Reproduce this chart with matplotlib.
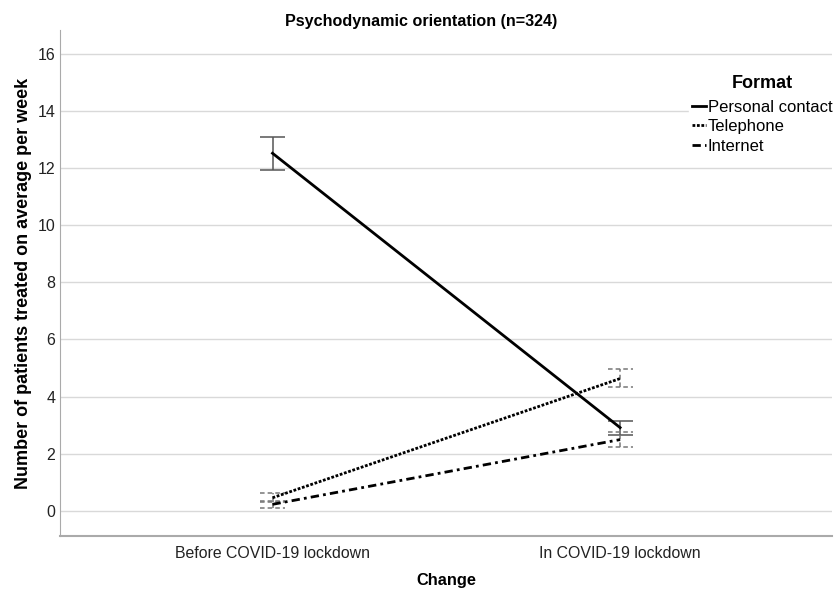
import numpy as np
import matplotlib
matplotlib.use('Agg')
import matplotlib.pyplot as plt

plt.rcParams['font.family'] = ['Liberation Sans', 'DejaVu Sans']

# data
periods = ['Before COVID-19 lockdown', 'In COVID-19 lockdown']
formats = ['Personal contact', 'Telephone', 'Internet']
means = {
    'Personal contact': [12.53, 2.91],
    'Telephone': [0.45, 4.63],
    'Internet': [0.22, 2.49],
}
ci_low = {
    'Personal contact': [11.93, 2.65],
    'Telephone': [0.29, 4.33],
    'Internet': [0.10, 2.23],
}
ci_high = {
    'Personal contact': [13.11, 3.13],
    'Telephone': [0.62, 4.96],
    'Internet': [0.33, 2.76],
}

line_styles = {
    'Personal contact': '-',
    'Telephone': (0, (1, 0.6)),
    'Internet': (0, (3, 1.5, 1, 1.5)),
}
bar_styles = {
    'Personal contact': '-',
    'Telephone': (0, (3, 2)),
    'Internet': (0, (3, 2)),
}
bar_colors = {
    'Personal contact': '#555555',
    'Telephone': '#777777',
    'Internet': '#777777',
}

fig, ax = plt.subplots(figsize=(8.35, 5.89), dpi=100)
fig.subplots_adjust(left=0.072, right=0.997, top=0.949, bottom=0.09)

x = np.arange(len(periods))
cap = 0.036

for name in formats:
    ax.plot(x, means[name], color='black', linestyle=line_styles[name],
            linewidth=2, label=name, zorder=3)
    ax.vlines(x, ci_low[name], ci_high[name], color=bar_colors[name],
              linestyle=bar_styles[name], linewidth=1.1, zorder=2)
    ax.hlines(ci_low[name], x - cap, x + cap, color=bar_colors[name],
              linestyle=bar_styles[name], linewidth=1.1, zorder=2)
    ax.hlines(ci_high[name], x - cap, x + cap, color=bar_colors[name],
              linestyle=bar_styles[name], linewidth=1.1, zorder=2)

ax.set_xlim(-0.611, 1.611)
ax.set_ylim(-0.89, 16.85)
ax.set_yticks(np.arange(0, 17, 2))
ax.set_xticks(x)
ax.set_xticklabels(periods, fontsize=11.4, color='#222222')
ax.tick_params(axis='y', labelsize=11.5, colors='#222222')
ax.tick_params(axis='x', pad=7)
ax.tick_params(length=0)
ax.grid(axis='y', color='#d9d9d9', linewidth=1)
ax.set_axisbelow(True)
for side in ['top', 'right']:
    ax.spines[side].set_visible(False)
ax.spines['left'].set_color('#aaaaaa')
ax.spines['bottom'].set_color('#aaaaaa')
ax.spines['bottom'].set_linewidth(1.5)

ax.set_title('Psychodynamic orientation (n=324)', fontsize=11.6, fontweight='bold',
             pad=3, x=0.468)
ax.set_ylabel('Number of patients treated on average per week', fontsize=13, fontweight='bold')
ax.set_xlabel('Change', fontsize=11.8, fontweight='bold', labelpad=9)

leg = ax.legend(title='Format', loc='upper right', bbox_to_anchor=(1.015, 0.935),
                frameon=True, fontsize=12, handlelength=0.85, handletextpad=0.1,
                labelspacing=0.26, borderpad=0.2)
leg.get_frame().set_edgecolor('white')
leg.get_frame().set_facecolor('white')
leg.get_frame().set_alpha(1)
leg.get_title().set_fontweight('bold')
leg.get_title().set_fontsize(13)
leg._legend_box.sep = 6

plt.savefig('out.png', dpi=100)
